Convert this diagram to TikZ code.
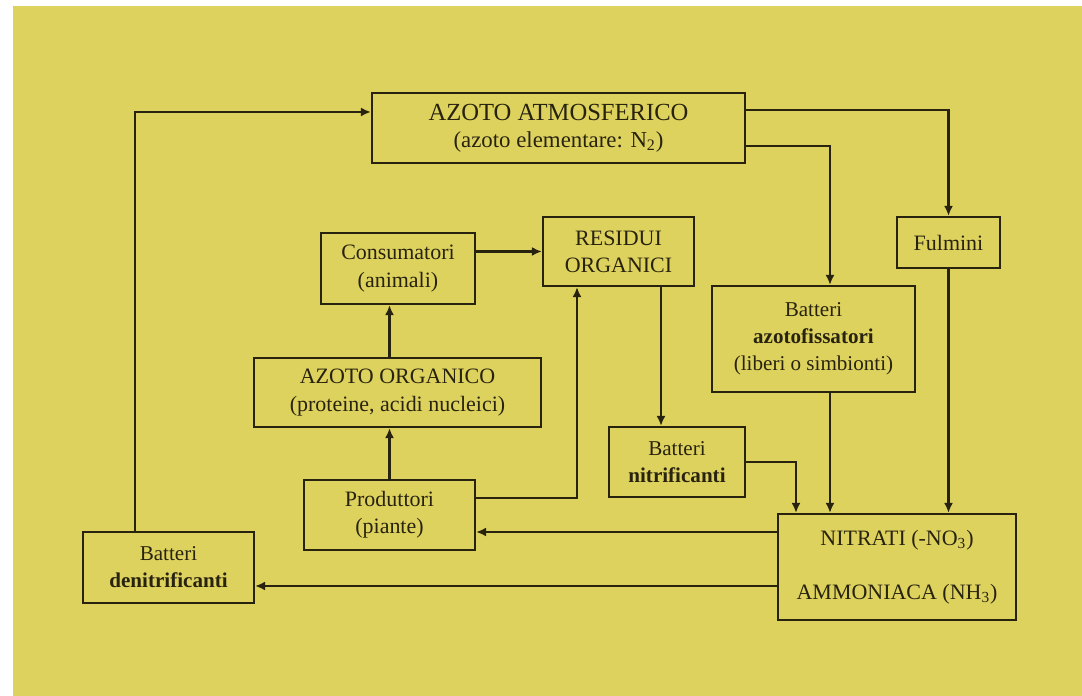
\documentclass[tikz,border=0pt]{standalone}
\usepackage{fontspec}
\setmainfont{Liberation Serif}
\usetikzlibrary{arrows.meta}

\definecolor{paper}{RGB}{222,210,94}
\definecolor{ink}{RGB}{40,35,15}

\tikzset{
  cyclebox/.style={draw=ink, line width=1.25pt, text=ink, align=center, inner sep=2pt,
    font=\fontsize{12.5}{15.5}\selectfont},
  flow/.style={draw=ink, line width=1.25pt, -{Latex[length=2mm,width=1.8mm]}}
}

\begin{document}
\begin{tikzpicture}
    \useasboundingbox (0,0) rectangle (21.64,13.92);
    \fill[white] (0,0) rectangle (21.64,13.92);
    \fill[paper] (0.26,0) rectangle (21.64,13.80);

    \node[cyclebox, minimum width=7.46cm, minimum height=1.40cm, font=\fontsize{14}{15.5}\selectfont] (atmo) at (11.17,11.36)
      {AZOTO ATMOSFERICO\\{\fontsize{13}{15}\selectfont(azoto elementare: N\textsubscript{2})}};
    \node[cyclebox, minimum width=3.08cm, minimum height=1.42cm] (cons) at (7.96,8.55) {Consumatori\\(animali)};
    \node[cyclebox, minimum width=3.02cm, minimum height=1.38cm] (resid) at (12.37,8.89) {RESIDUI\\ORGANICI};
    \node[cyclebox, minimum width=2.06cm, minimum height=1.02cm] (fulm) at (18.97,9.07) {Fulmini};
    \node[cyclebox, minimum width=4.06cm, minimum height=2.12cm, font=\fontsize{12}{15.5}\selectfont] (fiss) at (16.27,7.14)
      {Batteri\\\textbf{azotofissatori}\\(liberi o simbionti)};
    \node[cyclebox, minimum width=5.74cm, minimum height=1.38cm] (org) at (7.95,6.07) {AZOTO ORGANICO\\(proteine, acidi nucleici)};
    \node[cyclebox, minimum width=3.42cm, minimum height=1.40cm] (prod) at (7.79,3.62) {Produttori\\(piante)};
    \node[cyclebox, minimum width=3.42cm, minimum height=1.42cm, font=\fontsize{12}{15.5}\selectfont] (denit) at (3.37,2.57)
      {Batteri\\\textbf{denitrificanti}};
    \node[cyclebox, minimum width=2.72cm, minimum height=1.40cm, font=\fontsize{12}{15.5}\selectfont] (nitrif) at (13.54,4.68)
      {Batteri\\\textbf{nitrificanti}};
    \node[cyclebox, minimum width=4.76cm, minimum height=2.12cm] (nitr) at (17.94,2.58)
      {NITRATI (-NO\textsubscript{3})\\[15pt]AMMONIACA (NH\textsubscript{3})};

    \draw[flow] ([xshift=-0.67cm]denit.north) |- ([yshift=0.32cm]atmo.west);
    \draw[flow] ([yshift=0.36cm]atmo.east) -| (fulm.north);
    \draw[flow] ([yshift=-0.36cm]atmo.east) -| ([xshift=0.33cm]fiss.north);
    \draw[flow] (cons.east |- resid.west) -- (resid.west);
    \draw[flow] (prod.north |- org.north) -- (prod.north |- cons.south);
    \draw[flow] (prod.north) -- (prod.north |- org.south);
    \draw[flow] ([yshift=0.34cm]prod.east) -| ([xshift=-0.83cm]resid.south);
    \draw[flow] ([xshift=0.85cm]resid.south) -- ([xshift=0.85cm]resid.south |- nitrif.north);
    \draw[flow] (nitrif.east) -| ([xshift=-2.02cm]nitr.north);
    \draw[flow] ([xshift=0.33cm]fiss.south) -- ([xshift=0.33cm]fiss.south |- nitr.north);
    \draw[flow] (fulm.south) -- (fulm.south |- nitr.north);
    \draw[flow] ([yshift=0.70cm]nitr.west) -- ([yshift=0.70cm]nitr.west -| prod.east);
    \draw[flow] ([yshift=-0.38cm]nitr.west) -- ([yshift=-0.38cm]nitr.west -| denit.east);
\end{tikzpicture}
\end{document}
